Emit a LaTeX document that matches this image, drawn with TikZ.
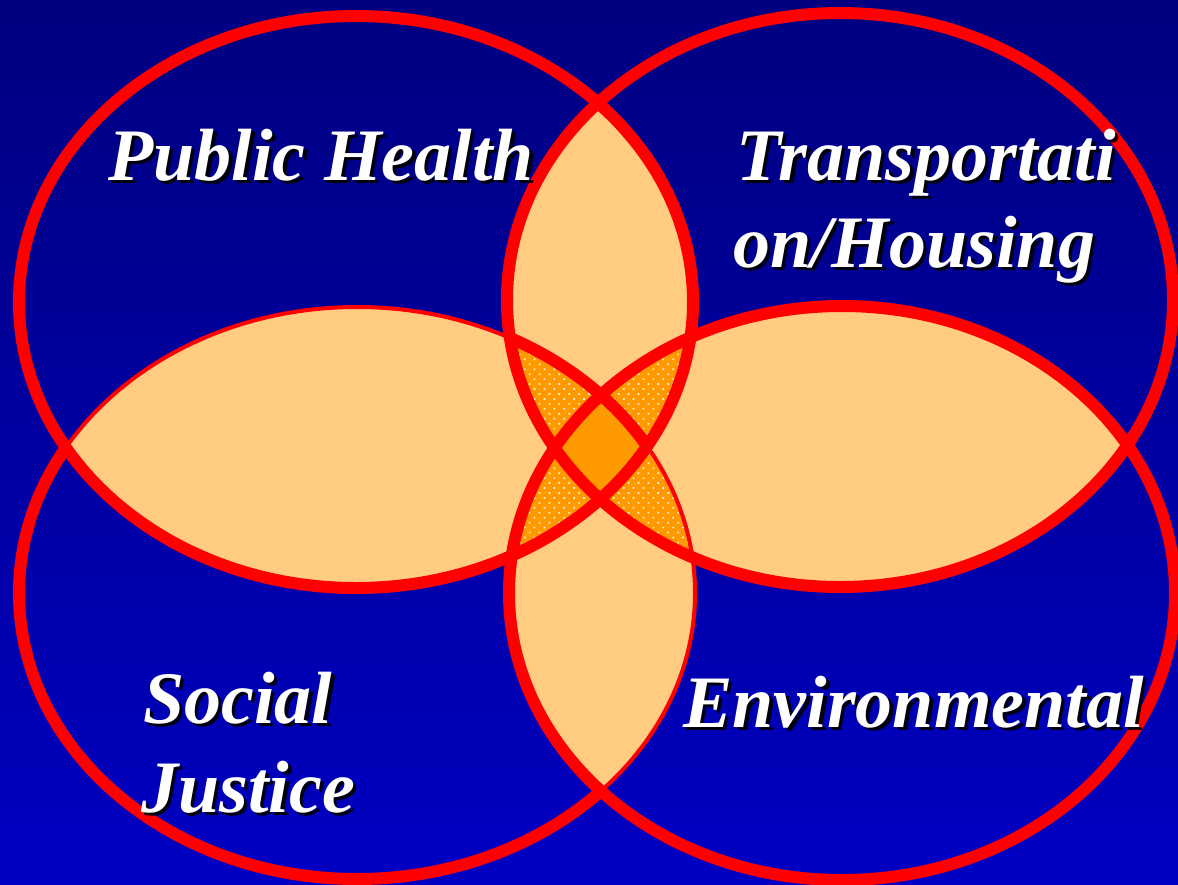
\documentclass[tikz,border=0pt]{standalone}
\usepackage{fontspec}
\setmainfont{Liberation Serif}
\usetikzlibrary{patterns.meta}

\definecolor{bgtop}{RGB}{0,0,128}
\definecolor{bgbot}{RGB}{0,0,194}
\definecolor{ringred}{RGB}{255,0,0}
\definecolor{pairfill}{RGB}{255,204,130}
\definecolor{tripfill}{RGB}{255,153,0}
\definecolor{quadfill}{RGB}{255,153,0}
\definecolor{dotwhite}{RGB}{255,240,215}

\newcommand\labelfont{\fontsize{74}{88}\selectfont\bfseries\itshape}
% label with a dropped black shadow: name, x, y, text
\newcommand\shadowlabel[4]{%
  \node[lblshadow] (#1s) at (#2+3.5,#3+3.5) {#4};
  \node[lbl] (#1) at (#2,#3) {#4};}

% the four ellipses (pixel units, y pointing down)
\def\ellTL{(356,302) ellipse [x radius=337pt, y radius=286pt]}
\def\ellTR{(840,300) ellipse [x radius=333pt, y radius=287pt]}
\def\ellBL{(357,593) ellipse [x radius=338pt, y radius=286pt]}
\def\ellBR{(842,593) ellipse [x radius=333pt, y radius=287pt]}
\def\bigframe{(-20,-20) rectangle (1200,910)}

\begin{document}
\begin{tikzpicture}[x=1pt,y=-1pt,
  ring/.style={draw=ringred, line width=12pt},
  thinring/.style={draw=ringred, line width=4pt},
  pairregion/.style={fill=pairfill},
  tripregion/.style={fill=tripfill,
    postaction={pattern={Dots[distance=7pt, radius=1.2pt, angle=45]},
                pattern color=dotwhite}},
  quadregion/.style={fill=quadfill},
  lbl/.style={inner sep=0pt, anchor=base west, text=white, font=\labelfont},
  lblshadow/.style={inner sep=0pt, anchor=base west, text=black,
                    opacity=0.9, font=\labelfont}]

\useasboundingbox (0,0) rectangle (1178,884);
\shade[top color=bgtop, bottom color=bgbot] (0,0) rectangle (1178,884);

% overlaps of two sets
\begin{scope}\clip \ellTL; \fill[pairregion] \ellTR; \end{scope}
\begin{scope}\clip \ellTL; \fill[pairregion] \ellBL; \end{scope}
\begin{scope}\clip \ellTR; \fill[pairregion] \ellBR; \end{scope}
\begin{scope}\clip \ellBL; \fill[pairregion] \ellBR; \end{scope}
\begin{scope}\clip \ellTL; \fill[pairregion] \ellBR; \end{scope}
\begin{scope}\clip \ellTR; \fill[pairregion] \ellBL; \end{scope}

% overlaps of three sets
\begin{scope}\clip \ellTL; \clip \ellTR; \path[tripregion] \ellBL; \end{scope}
\begin{scope}\clip \ellTL; \clip \ellTR; \path[tripregion] \ellBR; \end{scope}
\begin{scope}\clip \ellTL; \clip \ellBL; \path[tripregion] \ellBR; \end{scope}
\begin{scope}\clip \ellTR; \clip \ellBL; \path[tripregion] \ellBR; \end{scope}

% overlap of all four
\begin{scope}\clip \ellTL; \clip \ellTR; \clip \ellBL; \fill[quadregion] \ellBR; \end{scope}

% outline of the lower left set: thin inside the others, full weight elsewhere
\draw[thinring] \ellBL;
\begin{scope}[even odd rule]
  \clip \bigframe \ellTL;
  \clip \bigframe \ellBR;
  \draw[ring] \ellBL;
\end{scope}
\begin{scope}
  \clip \ellTL; \clip \ellTR;
  \draw[ring] \ellBL;
\end{scope}

% remaining outlines
\draw[ring] \ellTL;
\draw[ring] \ellTR;
\draw[ring] \ellBR;

% labels
\shadowlabel{health}{108}{180}{Public Health}
\shadowlabel{transA}{736}{180}{Transportati}
\shadowlabel{transB}{733}{267}{on/Housing}
\shadowlabel{socialA}{143}{723}{Social}
\shadowlabel{socialB}{141}{812}{Justice}
\shadowlabel{env}{683}{727}{Environmental}
\end{tikzpicture}
\end{document}
